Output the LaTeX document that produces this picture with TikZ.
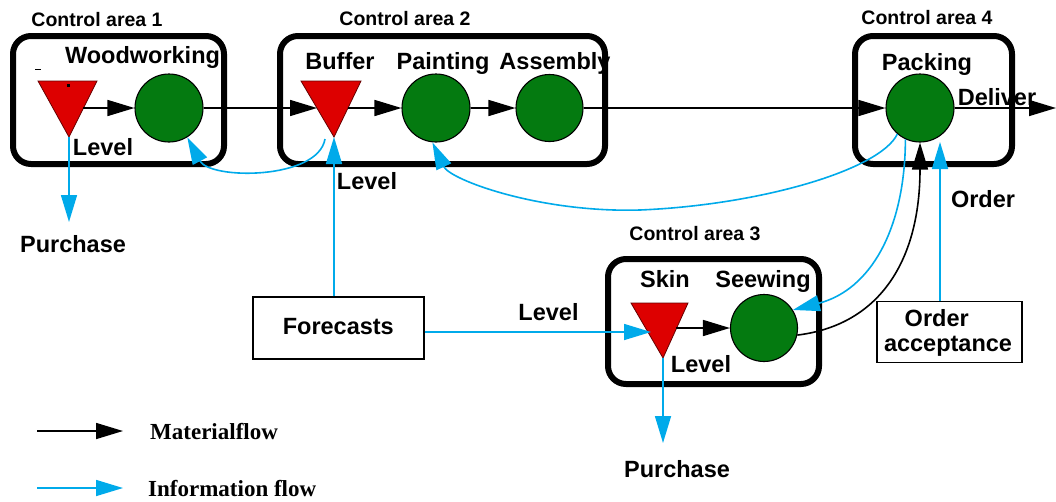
\documentclass[tikz,border=0pt]{standalone}
\usepackage{fontspec}
\setmainfont{Liberation Sans}
\newfontfamily\timesf{Liberation Serif}
\usetikzlibrary{arrows.meta}
\definecolor{tred}{RGB}{221,0,0}
\definecolor{cgreen}{RGB}{4,122,16}
\definecolor{iblue}{RGB}{0,170,234}
\begin{document}
\begin{tikzpicture}[x=1pt,y=-1pt,
  area/.style={draw, line width=6pt, rounded corners=18pt, inner sep=0pt},
  proc/.style={circle, draw, line width=1.1pt, fill=cgreen, minimum size=68pt, inner sep=0pt},
  lbl/.style={font=\fontsize{23.5}{26}\selectfont\bfseries, inner sep=0pt, anchor=base},
  alab/.style={font=\fontsize{19.5}{22}\selectfont\bfseries, inner sep=0pt, anchor=base},
  leg/.style={font=\timesf\fontsize{23}{26}\selectfont\bfseries, inner sep=0pt, anchor=base west},
  buf/.style={fill=tred, draw=black!60!red, line width=0.8pt},
  mat/.style={draw=black, line width=1.6pt, -{Triangle[length=27pt,width=16pt]}},
  info/.style={draw=iblue, line width=1.6pt, -{Triangle[length=27pt,width=16pt]}},
  txtbox/.style={draw, line width=1.3pt, inner sep=0pt, align=center}
]
\useasboundingbox (0,0) rectangle (1056,501);

% control areas
\node[area, minimum width=211pt, minimum height=128pt] (ca1) at (118.5,100) {};
\node[area, minimum width=325pt, minimum height=128pt] (ca2) at (442.5,100) {};
\node[area, minimum width=157pt, minimum height=128pt] (ca4) at (933.5,100) {};
\node[area, minimum width=211pt, minimum height=125pt] (ca3) at (713.5,321.5) {};

\node[alab] (lca1) at (97,26) {Control area 1};
\node[alab] (lca2) at (405,25) {Control area 2};
\node[alab] (lca4) at (927,24.5) {Control area 4};
\node[alab] (lca3) at (695,240) {Control area 3};

% buffers (triangles)
\draw[buf] (38,81) -- (97,81) -- (69,137) -- cycle;
\draw[buf] (301,81) -- (361,81) -- (334,137) -- cycle;
\draw[buf] (631,303) -- (688,303) -- (663,358) -- cycle;
\coordinate (t1a) at (69,137);
\coordinate (t1r) at (83,108);
\coordinate (t2a) at (334,137);
\coordinate (t2l) at (317,108);
\coordinate (t2r) at (348,108);
\coordinate (t2s) at (325,139);
\coordinate (t3a) at (663,358);
\coordinate (t3l) at (651,332);
\coordinate (t3r) at (676,328);
\fill (66.5,83.5) rectangle (69.5,86.5);
\draw[line width=0.6pt] (35,69) -- (41,69);

% processes
\node[proc] (c1) at (169,108) {};
\node[proc] (c2) at (436,108) {};
\node[proc, minimum size=67pt] (c3) at (549.5,108) {};
\node[proc] (c4) at (920,108) {};
\node[proc, minimum size=67pt] (c5) at (764,328) {};

% labels
\node[lbl] (lwood) at (142.5,63) {Woodworking};
\node[lbl] (lbuf) at (340,69.5) {Buffer};
\node[lbl] (lpaint) at (443,69.5) {Painting};
\node[lbl] (lass) at (555,69.5) {Assembly};
\node[lbl] (lpack) at (927,70) {Packing};
\node[lbl] (ldel) at (997,105) {Deliver};
\node[lbl] (lord) at (983,207.5) {Order};
\node[lbl] (lskin) at (665,287) {Skin};
\node[lbl] (lsew) at (763,287) {Seewing};
\node[lbl] (lev1) at (103,155) {Level};
\node[lbl] (lev2) at (367,189) {Level};
\node[lbl] (lev3) at (548.5,320) {Level};
\node[lbl] (lev4) at (701,372) {Level};
\node[lbl] (pur1) at (73,252) {Purchase};
\node[lbl] (pur2) at (677,477.5) {Purchase};

% boxes
\node[txtbox, minimum width=171pt, minimum height=62pt] (fc) at (338.5,328) {};
\node[lbl] (lfc) at (338.3,334) {Forecasts};
\node[txtbox, minimum width=145pt, minimum height=61pt] (oa) at (949.5,332) {};
\node[lbl] (loa1) at (936.7,326.7) {Order};
\node[lbl] (loa2) at (948,351.7) {acceptance};

% free ends
\coordinate (p1) at (69,222);
\coordinate (p2) at (663,443);
\coordinate (dlv) at (1056,108);
\coordinate (c4o) at (940,142);

% material flow
\draw[mat] (t1r) -- (c1.west);
\draw[mat] (c1.east) -- (t2l);
\draw[mat] (t2r) -- (c2.west);
\draw[mat] (c2.east) -- (c3.west);
\draw[mat] (c3.east) -- (c4.west);
\draw[mat] (c4.east) -- (dlv);
\draw[mat] (t3r) -- (c5.west);
\draw[mat] (c5.-12) .. controls (880,325) and (920,260) .. (c4.south);

% information flow
\draw[info] (t1a) -- (p1);
\draw[info] (t3a) -- (p2);
\draw[info] (fc.north -| t2a) -- (t2a);
\draw[info] (fc.east |- t3l) -- (t3l);
\draw[info] (oa.north -| c4o) -- (c4o);
\draw[info] (t2s) .. controls (318,180) and (210,180) .. (c1.-58);
\draw[info] (c4.-131) .. controls (880,170) and (760,205) .. (640,210) .. controls (540,213) and (450,180) .. (c2.-96);
\draw[info] (c4.-115) .. controls (905,230) and (870,290) .. (c5.32);

% legend
\coordinate (lm1) at (37,431);
\coordinate (lm2) at (123,431);
\coordinate (li1) at (37,488);
\coordinate (li2) at (123,488);
\draw[mat] (lm1) -- (lm2);
\draw[info] (li1) -- (li2);
\node[leg] (legm) at (150,439.3) {Materialflow};
\node[leg] (legi) at (148,496) {Information flow};
\end{tikzpicture}
\end{document}
